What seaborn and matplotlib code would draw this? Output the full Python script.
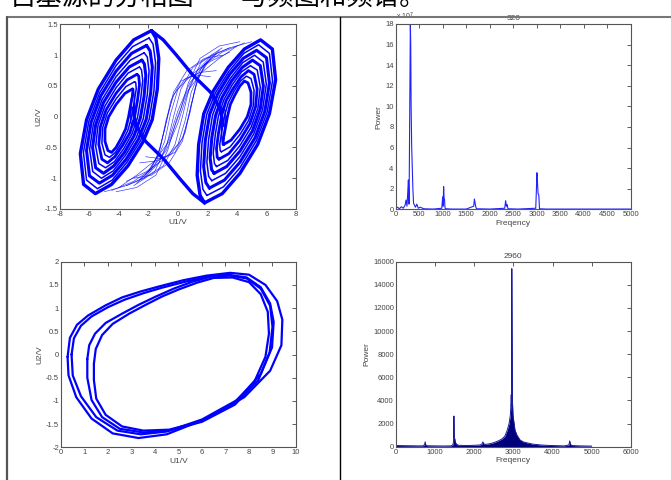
import numpy as np
import seaborn as sns
import matplotlib.pyplot as plt
from matplotlib.lines import Line2D

# ---- spectrum data ----
freq_a = [0, 40, 80, 120, 160, 200, 220, 240, 255, 270, 285, 300, 312, 320, 328,
          340, 352, 365, 380, 400, 420, 450, 480, 520, 600, 800, 980, 1000, 1010, 1020,
          1030, 1040, 1050, 1070, 1200, 1500, 1660, 1675, 1690, 1700, 1720, 2000, 2320, 2340, 2355,
          2370, 2390, 2600, 2980, 2995, 3005, 3015, 3030, 3045, 3060, 3200, 4000, 5000]
power_a = [0.1, 0.2, 0.05, 0.25, 0.1, 0.4, 0.9, 0.3, 1.5, 2.85, 0.5, 10.2, 18.0, 16.0, 10.2,
           6.1, 4.2, 2.1, 0.6, 0.4, 0.2, 0.5, 0.1, 0.2, 0.05, 0.02, 0.1, 1.2, 0.3, 2.2,
           1.1, 0.9, 0.1, 0.05, 0.02, 0.02, 0.3, 1.0, 0.6, 0.3, 0.05, 0.02, 0.1, 0.84, 0.3,
           0.45, 0.05, 0.02, 0.1, 2.0, 3.55, 2.8, 1.5, 1.4, 0.05, 0.02, 0.02, 0.02]

freq_b = [0, 200, 400, 600, 700, 730, 745, 760, 800, 1000, 1200, 1400, 1450, 1470, 1480,
          1490, 1500, 1520, 1550, 1600, 1800, 2000, 2150, 2200, 2220, 2240, 2300, 2400, 2500, 2600,
          2700, 2780, 2840, 2890, 2925, 2945, 2955, 2960, 2965, 2975, 2990, 3010, 3040, 3090, 3170,
          3250, 3350, 3500, 3700, 3900, 4100, 4300, 4420, 4440, 4460, 4500, 4700, 5000]
power_b = [100, 90, 80, 70, 80, 200, 420, 150, 80, 70, 60, 70, 150, 400, 2650,
           800, 700, 350, 200, 120, 100, 120, 150, 250, 420, 250, 200, 260, 350, 480,
           650, 900, 1400, 2000, 2800, 4500, 3500, 15400, 11000, 4000, 2700, 2200, 1450, 1000, 580,
           420, 330, 220, 150, 110, 90, 70, 150, 500, 200, 100, 70, 50]

# ---- double scroll (U1, U2), rings traced by hand from outside to the hole ----
left_rings = [
    [(-1.8, 1.40), (-3.0, 1.25), (-4.2, 0.92), (-5.4, 0.45), (-6.2, -0.05), (-6.62, -0.6), (-6.4, -1.1), (-5.6, -1.25),
     (-4.5, -1.1), (-3.4, -0.8), (-2.4, -0.42), (-1.75, -0.05), (-1.4, 0.45), (-1.3, 0.95), (-1.5, 1.28)],
    [(-1.96, 1.28), (-3.08, 1.14), (-4.2, 0.83), (-5.31, 0.39), (-6.04, -0.07), (-6.41, -0.58), (-6.2, -1.03), (-5.46, -1.17),
     (-4.46, -1.03), (-3.46, -0.74), (-2.54, -0.39), (-1.95, -0.04), (-1.63, 0.42), (-1.52, 0.88), (-1.69, 1.18)],
    [(-2.13, 1.16), (-3.15, 1.03), (-4.2, 0.74), (-5.23, 0.34), (-5.89, -0.09), (-6.2, -0.55), (-6.0, -0.96), (-5.33, -1.08),
     (-4.43, -0.95), (-3.51, -0.69), (-2.69, -0.37), (-2.15, -0.04), (-1.85, 0.39), (-1.74, 0.81), (-1.89, 1.07)],
    [(-2.29, 1.04), (-3.23, 0.92), (-4.2, 0.65), (-5.14, 0.28), (-5.73, -0.11), (-5.99, -0.53), (-5.78, -0.89), (-5.19, -1.0),
     (-4.39, -0.88), (-3.57, -0.63), (-2.83, -0.34), (-2.35, -0.03), (-2.08, 0.36), (-1.96, 0.74), (-2.08, 0.97)],
    [(-2.45, 0.92), (-3.3, 0.81), (-4.2, 0.56), (-5.05, 0.23), (-5.58, -0.13), (-5.79, -0.5), (-5.58, -0.83), (-5.05, -0.92),
     (-4.35, -0.8), (-3.63, -0.58), (-2.98, -0.31), (-2.55, -0.02), (-2.3, 0.33), (-2.18, 0.67), (-2.28, 0.86)],
    [(-2.61, 0.81), (-3.38, 0.71), (-4.2, 0.47), (-4.96, 0.17), (-5.42, -0.14), (-5.58, -0.48), (-5.37, -0.76), (-4.91, -0.83),
     (-4.31, -0.73), (-3.68, -0.52), (-3.12, -0.28), (-2.75, -0.02), (-2.53, 0.29), (-2.39, 0.59), (-2.47, 0.76)],
    [(-2.78, 0.69), (-3.45, 0.60), (-4.2, 0.38), (-4.88, 0.11), (-5.26, -0.16), (-5.37, -0.45), (-5.16, -0.69), (-4.78, -0.75),
     (-4.28, -0.65), (-3.74, -0.46), (-3.26, -0.26), (-2.95, -0.01), (-2.75, 0.26), (-2.61, 0.52), (-2.66, 0.66)],
    [(-2.94, 0.57), (-3.53, 0.49), (-4.2, 0.29), (-4.79, 0.06), (-5.11, -0.18), (-5.16, -0.43), (-4.95, -0.62), (-4.64, -0.66),
     (-4.24, -0.58), (-3.79, -0.41), (-3.41, -0.23), (-3.15, -0.01), (-2.98, 0.23), (-2.83, 0.45), (-2.86, 0.55)],
    [(-3.1, 0.45), (-3.6, 0.38), (-4.2, 0.20), (-4.7, 0.0), (-4.95, -0.2), (-4.95, -0.4), (-4.75, -0.55), (-4.5, -0.58),
     (-4.2, -0.5), (-3.85, -0.35), (-3.55, -0.2), (-3.35, 0.0), (-3.2, 0.2), (-3.05, 0.38), (-3.05, 0.45)],
]
right_rings = [
    [(1.8, -1.40), (3.0, -1.25), (4.2, -0.92), (5.4, -0.45), (6.2, 0.05), (6.62, 0.6), (6.4, 1.1), (5.6, 1.25),
     (4.5, 1.1), (3.4, 0.8), (2.4, 0.42), (1.75, 0.05), (1.4, -0.45), (1.3, -0.95), (1.5, -1.28)],
    [(1.96, -1.28), (3.08, -1.14), (4.2, -0.83), (5.31, -0.39), (6.04, 0.07), (6.41, 0.58), (6.2, 1.03), (5.46, 1.17),
     (4.46, 1.03), (3.46, 0.74), (2.54, 0.39), (1.95, 0.04), (1.63, -0.42), (1.52, -0.88), (1.69, -1.18)],
    [(2.13, -1.16), (3.15, -1.03), (4.2, -0.74), (5.23, -0.34), (5.89, 0.09), (6.2, 0.55), (6.0, 0.96), (5.33, 1.08),
     (4.43, 0.95), (3.51, 0.69), (2.69, 0.37), (2.15, 0.04), (1.85, -0.39), (1.74, -0.81), (1.89, -1.07)],
    [(2.29, -1.04), (3.23, -0.92), (4.2, -0.65), (5.14, -0.28), (5.73, 0.11), (5.99, 0.53), (5.78, 0.89), (5.19, 1.0),
     (4.39, 0.88), (3.57, 0.63), (2.83, 0.34), (2.35, 0.03), (2.08, -0.36), (1.96, -0.74), (2.08, -0.97)],
    [(2.45, -0.92), (3.3, -0.81), (4.2, -0.56), (5.05, -0.23), (5.58, 0.13), (5.79, 0.5), (5.58, 0.83), (5.05, 0.92),
     (4.35, 0.8), (3.63, 0.58), (2.98, 0.31), (2.55, 0.02), (2.3, -0.33), (2.18, -0.67), (2.28, -0.86)],
    [(2.61, -0.81), (3.38, -0.71), (4.2, -0.47), (4.96, -0.17), (5.42, 0.14), (5.58, 0.48), (5.37, 0.76), (4.91, 0.83),
     (4.31, 0.73), (3.68, 0.52), (3.12, 0.28), (2.75, 0.02), (2.53, -0.29), (2.39, -0.59), (2.47, -0.76)],
    [(2.78, -0.69), (3.45, -0.60), (4.2, -0.38), (4.88, -0.11), (5.26, 0.16), (5.37, 0.45), (5.16, 0.69), (4.78, 0.75),
     (4.28, 0.65), (3.74, 0.46), (3.26, 0.26), (2.95, 0.01), (2.75, -0.26), (2.61, -0.52), (2.66, -0.66)],
    [(2.94, -0.57), (3.53, -0.49), (4.2, -0.29), (4.79, -0.06), (5.11, 0.18), (5.16, 0.43), (4.95, 0.62), (4.64, 0.66),
     (4.24, 0.58), (3.79, 0.41), (3.41, 0.23), (3.15, 0.01), (2.98, -0.23), (2.83, -0.45), (2.86, -0.55)],
    [(3.1, -0.45), (3.6, -0.38), (4.2, -0.20), (4.7, 0.0), (4.95, 0.2), (4.95, 0.4), (4.75, 0.55), (4.5, 0.58),
     (4.2, 0.5), (3.85, 0.35), (3.55, 0.2), (3.35, 0.0), (3.2, -0.2), (3.05, -0.38), (3.05, -0.45)],
]
ring_widths = [2.4, 1.1, 2.2, 1.1, 2.2, 1.1, 2.0, 1.1, 2.0]

inner_spirals = [
    [(-3.05, 0.45), (-2.95, 0.3), (-2.95, 0.0), (-3.05, -0.15), (-3.2, -0.1), (-3.2, 0.2), (-3.1, 0.4)],
    [(3.05, -0.45), (2.95, -0.3), (2.95, 0.0), (3.05, 0.15), (3.2, 0.1), (3.2, -0.2), (3.1, -0.4)],
]
cross_strands = [
    [(-1.8, 1.4), (-1.0, 1.25), (-0.1, 1.0), (1.0, 0.68), (2.2, 0.4), (2.85, 0.14), (3.07, -0.14)],
    [(1.8, -1.4), (1.0, -1.25), (0.1, -1.0), (-1.0, -0.68), (-2.2, -0.4), (-2.85, -0.14), (-3.07, 0.14)],
]
thin_strands = [
    [(4.5, 1.2), (3.0, 1.05), (1.8, 0.85), (0.8, 0.55), (0.0, 0.1), (-0.6, -0.35), (-1.3, -0.75), (-2.3, -1.0), (-3.5, -1.12)],
    [(4.0, 1.15), (2.8, 0.95), (1.6, 0.72), (0.6, 0.4), (-0.1, -0.05), (-0.7, -0.55), (-1.5, -0.95), (-2.8, -1.15), (-4.2, -1.22)],
    [(3.5, 1.05), (2.2, 0.9), (1.0, 0.7), (0.0, 0.45), (-0.5, 0.05), (-0.9, -0.4), (-1.6, -0.8), (-2.6, -1.02)],
    [(3.0, 1.0), (1.8, 0.95), (0.6, 0.75), (-0.3, 0.4), (-0.8, -0.1), (-1.3, -0.6), (-2.0, -0.9)],
    [(2.6, 0.75), (1.5, 0.72), (0.5, 0.62), (-0.3, 0.35), (-0.8, -0.05), (-1.2, -0.5), (-1.8, -0.85), (-2.8, -1.08)],
    [(2.2, 0.65), (1.2, 0.68), (0.2, 0.58), (-0.5, 0.25), (-0.9, -0.2), (-1.4, -0.65), (-2.2, -0.95)],
    [(5.0, 1.22), (3.5, 1.12), (2.2, 0.98), (1.0, 0.8), (0.2, 0.45), (-0.3, 0.0), (-0.8, -0.5), (-1.6, -0.9), (-3.0, -1.12)],
    [(-4.5, -1.2), (-3.0, -1.05), (-1.8, -0.85), (-0.8, -0.55), (0.0, -0.1), (0.6, 0.35), (1.3, 0.75), (2.3, 1.0), (3.5, 1.12)],
    [(-4.0, -1.15), (-2.8, -0.95), (-1.6, -0.72), (-0.6, -0.4), (0.1, 0.05), (0.7, 0.55), (1.5, 0.95), (2.8, 1.15), (4.2, 1.22)],
    [(-3.5, -1.05), (-2.2, -0.9), (-1.0, -0.7), (0.0, -0.45), (0.5, -0.05), (0.9, 0.4), (1.6, 0.8), (2.6, 1.02)],
    [(-3.0, -1.0), (-1.8, -0.95), (-0.6, -0.75), (0.3, -0.4), (0.8, 0.1), (1.3, 0.6), (2.0, 0.9)],
    [(-2.6, -0.75), (-1.5, -0.72), (-0.5, -0.62), (0.3, -0.35), (0.8, 0.05), (1.2, 0.5), (1.8, 0.85), (2.8, 1.08)],
    [(-2.2, -0.65), (-1.2, -0.68), (-0.2, -0.58), (0.5, -0.25), (0.9, 0.2), (1.4, 0.65), (2.2, 0.95)],
    [(-5.0, -1.22), (-3.5, -1.12), (-2.2, -0.98), (-1.0, -0.8), (-0.2, -0.45), (0.3, 0.0), (0.8, 0.5), (1.6, 0.9), (3.0, 1.12)],
]

# ---- limit cycle (U1, U2), four strands traced by hand ----
limit_cycle = [
    [(0.28, -0.05), (0.38, 0.36), (0.68, 0.64), (1.15, 0.84), (1.9, 1.06), (2.6, 1.23), (3.4, 1.36), (4.2, 1.47),
     (5.2, 1.6), (6.2, 1.7), (7.2, 1.76), (8.0, 1.72), (8.7, 1.5), (9.2, 1.15), (9.42, 0.75), (9.38, 0.2),
     (8.9, -0.35), (7.8, -0.92), (6.2, -1.38), (4.5, -1.72), (3.3, -1.8), (2.2, -1.7), (1.3, -1.38), (0.65, -0.92),
     (0.32, -0.45), (0.28, -0.05)],
    [(0.45, 0.0), (0.55, 0.35), (0.85, 0.62), (1.3, 0.82), (2.0, 1.02), (2.7, 1.18), (3.5, 1.32), (4.3, 1.44),
     (5.3, 1.57), (6.3, 1.68), (7.1, 1.72), (7.9, 1.66), (8.5, 1.45), (8.9, 1.1), (9.05, 0.7), (8.98, 0.15),
     (8.5, -0.42), (7.5, -0.98), (6.0, -1.4), (4.5, -1.66), (3.4, -1.72), (2.4, -1.64), (1.5, -1.35), (0.85, -0.9),
     (0.5, -0.45), (0.45, 0.0)],
    [(1.12, -0.1), (1.2, 0.2), (1.45, 0.45), (1.9, 0.68), (2.6, 0.88), (3.3, 1.07), (4.0, 1.24), (4.8, 1.42),
     (5.6, 1.57), (6.4, 1.68), (7.2, 1.7), (7.9, 1.64), (8.5, 1.42), (8.9, 1.05), (9.0, 0.6), (8.88, 0.05),
     (8.4, -0.55), (7.4, -1.08), (6.0, -1.45), (4.6, -1.64), (3.5, -1.68), (2.5, -1.6), (1.75, -1.35), (1.3, -0.98),
     (1.12, -0.5), (1.12, -0.1)],
    [(1.4, -0.2), (1.48, 0.12), (1.75, 0.42), (2.2, 0.66), (2.9, 0.88), (3.6, 1.07), (4.3, 1.25), (5.0, 1.4),
     (5.8, 1.55), (6.5, 1.65), (7.3, 1.66), (8.0, 1.56), (8.5, 1.3), (8.8, 0.92), (8.85, 0.45), (8.7, -0.05),
     (8.2, -0.62), (7.2, -1.12), (5.9, -1.45), (4.6, -1.62), (3.5, -1.64), (2.6, -1.55), (1.9, -1.3), (1.5, -0.95),
     (1.4, -0.55), (1.4, -0.2)],
]

# ---- ticks ----
tl_xticks = [-8, -6, -4, -2, 0, 2, 4, 6, 8]
tl_yticks = [-1.5, -1, -0.5, 0, 0.5, 1, 1.5]
tl_ylabels = ['-1.5', '-1', '-0.5', '0', '0.5', '1', '1.5']
bl_xticks = list(range(0, 11))
bl_yticks = [-2, -1.5, -1, -0.5, 0, 0.5, 1, 1.5, 2]
bl_ylabels = ['-2', '-1.5', '-1', '-0.5', '0', '0.5', '1', '1.5', '2']
tr_xticks = list(range(0, 5001, 500))
tr_yticks = list(range(0, 19, 2))
br_xticks = list(range(0, 6001, 1000))
br_yticks = list(range(0, 16001, 2000))

sns.set_theme(style='white')
plt.rcParams['font.family'] = ['Liberation Sans', 'DejaVu Sans']
plt.rcParams['axes.unicode_minus'] = False

fig = plt.figure(figsize=(6.71, 4.8), dpi=100)
fig.patch.set_facecolor('white')

TICK_FS = 5.5
LAB_FS = 6
GRAY = '#444444'


def style_axes(ax, xticks, yticks, xlabels=None, ylabels=None):
    ax.set_xticks(xticks)
    ax.set_yticks(yticks)
    ax.set_xticklabels(xlabels if xlabels else [str(t) for t in xticks])
    ax.set_yticklabels(ylabels if ylabels else [str(t) for t in yticks])
    ax.tick_params(direction='in', length=3, width=0.6, top=True, right=True,
                   labelsize=TICK_FS, colors=GRAY, pad=1.5)
    for s in ax.spines.values():
        s.set_color('#555555')
        s.set_linewidth(0.8)
    ax.set_facecolor('white')


def trace(ax, pts, lw, color='blue', alpha=1.0, closed=False):
    pts = list(pts) + ([pts[0]] if closed else [])
    xs, ys = zip(*pts)
    sns.lineplot(x=list(xs), y=list(ys), sort=False, estimator=None, ax=ax,
                 color=color, lw=lw, alpha=alpha, solid_joinstyle='round')


# top-left: double scroll
ax1 = fig.add_axes([0.0894, 0.5646, 0.3517, 0.3844])
for s in thin_strands:
    trace(ax1, s, 0.5, alpha=0.75)
for ring, w in zip(left_rings, ring_widths):
    trace(ax1, ring, w, closed=True)
for ring, w in zip(right_rings, ring_widths):
    trace(ax1, ring, w, closed=True)
for s in inner_spirals:
    trace(ax1, s, 1.0)
for s in cross_strands:
    trace(ax1, s, 2.4)
ax1.set_xlim(-8, 8)
ax1.set_ylim(-1.5, 1.5)
style_axes(ax1, tl_xticks, tl_yticks, None, tl_ylabels)
ax1.set_xlabel('U1/V', fontsize=LAB_FS, color=GRAY, labelpad=1)
ax1.set_ylabel('U2/V', fontsize=LAB_FS, color=GRAY, labelpad=2)

# top-right: spectrum (x 10^7)
ax2 = fig.add_axes([0.5897, 0.5640, 0.3502, 0.3860])
sns.lineplot(x=freq_a, y=power_a, estimator=None, ax=ax2, color='#2222ff', lw=0.8)
ax2.set_xlim(0, 5000)
ax2.set_ylim(0, 18)
style_axes(ax2, tr_xticks, tr_yticks)
ax2.set_xlabel('Freqency', fontsize=LAB_FS, color=GRAY, labelpad=1)
ax2.set_ylabel('Power', fontsize=LAB_FS, color=GRAY, labelpad=2)
ax2.set_title('320', fontsize=LAB_FS, color=GRAY, pad=3)
ax2.text(0.0, 1.01, 'x 10$^7$', transform=ax2.transAxes, fontsize=5, color=GRAY,
         ha='left', va='bottom')

# bottom-left: limit cycle
ax3 = fig.add_axes([0.0909, 0.0681, 0.3502, 0.3867])
for loop in limit_cycle:
    trace(ax3, loop, 1.6)
ax3.set_xlim(0, 10)
ax3.set_ylim(-2, 2)
style_axes(ax3, bl_xticks, bl_yticks, None, bl_ylabels)
ax3.set_xlabel('U1/V', fontsize=LAB_FS, color=GRAY, labelpad=1)
ax3.set_ylabel('U2/V', fontsize=LAB_FS, color=GRAY, labelpad=2)

# bottom-right: spectrum
ax4 = fig.add_axes([0.5902, 0.0694, 0.3498, 0.3854])
ax4.fill_between(freq_b, power_b, color='#00007a', lw=0)
sns.lineplot(x=freq_b, y=power_b, estimator=None, ax=ax4, color='#1a1aa0', lw=0.7)
ax4.set_xlim(0, 6000)
ax4.set_ylim(0, 16000)
style_axes(ax4, br_xticks, br_yticks)
ax4.set_xlabel('Freqency', fontsize=LAB_FS, color=GRAY, labelpad=1)
ax4.set_ylabel('Power', fontsize=LAB_FS, color=GRAY, labelpad=2)
ax4.set_title('2960', fontsize=LAB_FS, color=GRAY, pad=3)

# table frame of the scanned page
fig.add_artist(Line2D([0.0104, 1.0], [0.9646, 0.9646], color='#777777', lw=1.5))
fig.add_artist(Line2D([0.0097, 0.0097], [0.0, 0.9646], color='#555555', lw=1.6))
fig.add_artist(Line2D([0.5067, 0.5067], [0.0, 0.9646], color='black', lw=1.0))

# caption cut off at the top edge, as in the scanned page
fig.text(0.015, 1.006, '自基源的分相图——与频图和频谱。', fontsize=19, ha='left', va='center',
         family=['Noto Sans CJK SC', 'DejaVu Sans'], color='black')

fig.savefig('out.png', dpi=100)
